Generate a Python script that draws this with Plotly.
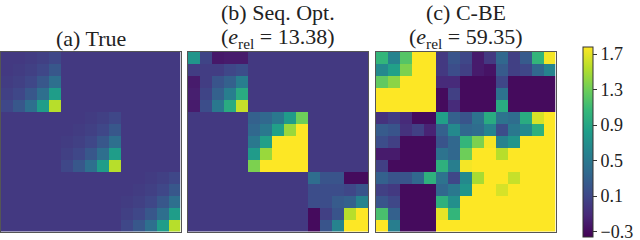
import numpy as np
import plotly.graph_objects as go

W, H = 640, 240
true_block = [
    [0.00, 0.00, 0.02, 0.05, 0.10],
    [0.00, 0.02, 0.05, 0.10, 0.22],
    [0.02, 0.05, 0.10, 0.22, 0.42],
    [0.05, 0.10, 0.22, 0.42, 0.82],
    [0.10, 0.22, 0.42, 0.82, 1.55],
]
seq_block1 = [
    [0.75, 0.08, -0.22, -0.20, -0.20],
    [0.03, 0.03, 0.03, 0.10, 0.15],
    [-0.20, 0.03, 0.20, 0.30, 0.55],
    [-0.18, 0.08, 0.30, 0.55, 0.95],
    [-0.20, 0.15, 0.50, 0.95, 1.60],
]
seq_block2 = [
    [0.30, 0.35, 0.50, 0.80, 1.30],
    [0.35, 0.50, 0.85, 1.45, 1.80],
    [0.50, 0.85, 1.80, 1.80, 1.80],
    [0.80, 1.45, 1.80, 1.80, 1.80],
    [1.35, 1.80, 1.80, 1.80, 1.80],
]
seq_block3 = [
    [0.40, 0.20, 0.20, -0.30, -0.30],
    [0.15, 0.15, 0.15, 0.10, 0.20],
    [0.15, 0.15, 0.25, 0.30, 0.60],
    [-0.30, 0.05, 0.20, 1.55, 1.80],
    [-0.30, 0.20, 0.60, 1.80, 1.80],
]
cbe = [
    [1.05, .60, 1.20, 1.8, 1.8, .00, .20, .10, -.20, .00, .35, .05, .25, 1.05, 1.75],
    [.65, .85, 1.35, 1.8, 1.8, .00, .15, .05, -.20, -.25, .25, .05, .10, .35, .60],
    [1.25, 1.40, 1.8, 1.8, 1.8, -.10, -.10, -.30, -.30, -.30, .10, -.30, -.30, -.30, -.30],
    [1.8, 1.8, 1.8, 1.8, 1.8, -.30, .05, -.30, -.30, -.30, .45, -.30, -.30, -.30, -.30],
    [1.8, 1.8, 1.8, 1.8, 1.8, -.30, -.10, -.30, -.30, -.30, .95, -.30, -.30, -.30, -.30],
    [-.05, .03, -.10, -.30, -.30, .85, .30, .20, .45, .95, .45, .40, .95, 1.65, 1.8],
    [.25, .20, -.05, .05, -.15, .30, .65, .35, .40, .60, .15, .50, .65, 1.00, 1.8],
    [.15, .05, -.30, -.30, -.30, .20, .35, 1.05, 1.35, 1.75, .60, .75, 1.8, 1.8, 1.8],
    [-.20, -.20, -.30, -.30, -.30, .45, .35, 1.30, 1.8, 1.8, 1.55, 1.8, 1.8, 1.8, 1.8],
    [.05, -.30, -.30, -.30, -.30, 1.00, .55, 1.75, 1.8, 1.8, 1.8, 1.8, 1.8, 1.8, 1.8],
    [.30, .20, .20, .35, 1.00, .45, .10, .65, 1.50, 1.8, 1.8, 1.60, 1.8, 1.8, 1.8],
    [.05, .00, -.30, -.30, -.30, .35, .50, .75, 1.8, 1.8, 1.65, 1.8, 1.8, 1.8, 1.8],
    [.20, .10, -.30, -.30, -.30, 1.00, .70, 1.8, 1.8, 1.8, 1.8, 1.8, 1.8, 1.8, 1.8],
    [1.15, .30, -.30, -.30, -.30, 1.70, 1.05, 1.8, 1.8, 1.8, 1.8, 1.8, 1.8, 1.8, 1.8],
    [1.8, .55, -.30, -.30, -.30, 1.8, 1.8, 1.8, 1.8, 1.8, 1.8, 1.8, 1.8, 1.8, 1.8],
]
cbar_ticks = [-0.3, 0.1, 0.5, 0.9, 1.3, 1.7]
cbar_labels = ["\u22120.3", "0.1", "0.5", "0.9", "1.3", "1.7"]
title_top = [None, "(b) Seq. Opt.", "(c) C-BE"]
title_bottom = ["(a) True", "(<i>e</i><sub>rel</sub> = 13.38)", "(<i>e</i><sub>rel</sub> = 59.35)"]


def diag(blocks):
    m = np.zeros((15, 15))
    for i, b in enumerate(blocks):
        m[i * 5:i * 5 + 5, i * 5:i * 5 + 5] = b
    return m


panels = [diag([true_block] * 3), diag([seq_block1, seq_block2, seq_block3]), np.array(cbe)]
px_x = [(0.5, 180.5), (188, 368), (375.5, 555.5)]
top, bottom = 52, 231.5
FONT = "Liberation Serif"
fig = go.Figure()
for i, z in enumerate(panels):
    s = "" if i == 0 else str(i + 1)
    fig.add_trace(go.Heatmap(
        z=z, xaxis="x" + s, yaxis="y" + s, colorscale="Viridis",
        zmin=-0.36, zmax=1.78, showscale=i == 0, xgap=0, ygap=0, hoverinfo="skip",
        colorbar=dict(
            x=583 / W, xanchor="left", y=1 - 47 / H, yanchor="top",
            len=190 / H, lenmode="fraction", thickness=10, thicknessmode="pixels",
            tickvals=cbar_ticks, ticktext=cbar_labels, ticks="outside", ticklen=4,
            tickwidth=1, tickcolor="#333", outlinecolor="#333", outlinewidth=1,
            ticklabeloverflow="allow",
            xpad=0, ypad=0, tickfont=dict(family=FONT, size=18, color="#222"),
        ),
    ))
    axis = dict(showticklabels=False, ticks="", showgrid=False, zeroline=False,
                showline=True, linecolor="#555", linewidth=1, mirror=True)
    fig.layout["xaxis" + s] = dict(axis, domain=[px_x[i][0] / W, px_x[i][1] / W],
                                   range=[-0.5, 14.5], anchor="y" + s)
    fig.layout["yaxis" + s] = dict(axis, domain=[1 - bottom / H, 1 - top / H],
                                   range=[14.5, -0.5], anchor="x" + s)
    cx = (px_x[i][0] + px_x[i][1]) / 2 / W
    for txt, ypx in ((title_top[i], 12), (title_bottom[i], 38)):
        if txt:
            fig.add_annotation(x=cx, y=1 - ypx / H, xref="paper", yref="paper",
                               text=txt, showarrow=False, xanchor="center", yanchor="middle",
                               font=dict(family=FONT, size=22, color="#222"))
fig.update_layout(width=W, height=H, margin=dict(l=0, r=0, t=0, b=0),
                  paper_bgcolor="white", plot_bgcolor="white")
fig.write_html("out.html", config={"displayModeBar": False},
               post_script="document.body.style.margin='0';document.body.style.overflow='hidden';")
